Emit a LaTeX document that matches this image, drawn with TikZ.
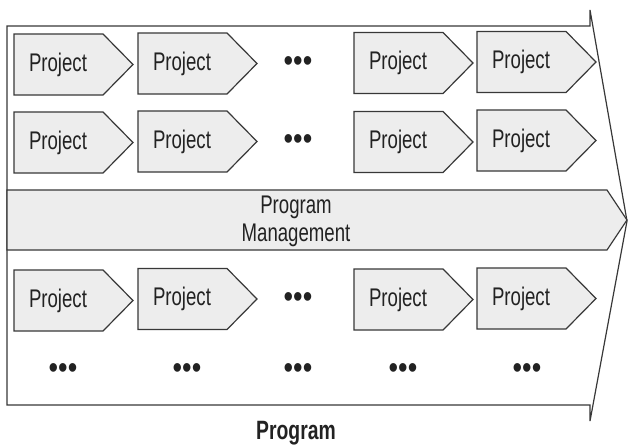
\documentclass[tikz,border=0pt]{standalone}
\usepackage{fontspec}
\setmainfont{Liberation Sans}[FakeStretch=0.73]
\newfontfamily\dotfont{Liberation Sans}[FakeStretch=0.85]
\definecolor{linec}{HTML}{383838}
\definecolor{boxfill}{HTML}{EDEDED}
\definecolor{textc}{HTML}{222222}
\begin{document}
\begin{tikzpicture}[x=1pt,y=-1pt,
  outline/.style={draw=linec, line width=1.2pt, line join=miter},
  chev/.style={outline, fill=boxfill},
  ptext/.style={font=\fontsize{25.5}{28}\selectfont, inner sep=0pt, text=textc},
  dotrow/.style={font=\dotfont\fontsize{32}{32}\selectfont, inner sep=0pt, text=textc},
  title/.style={font=\fontsize{26.5}{28}\selectfont\bfseries, inner sep=0pt, text=textc}]
\useasboundingbox (0,0) rectangle (628,445);

% program arrow (outer frame)
\draw[outline, fill=white] (7,26) -- (590,26) -- (590,10) -- (627,221)
  -- (590,421) -- (590,405) -- (7,405) -- cycle;

% program management band
\draw[chev] (7,190) -- (607,190) -- (627,220) -- (607,250) -- (7,250) -- cycle;
\node[ptext, align=center] (pm) at (296,221) {Program\\Management};

% project chevron: name, left x, centre y
\newcommand\projbox[3]{%
  \draw[chev] (#2,#3-30.5) -- ++(89,0) -- ++(30,30.5) -- ++(-30,30.5)
    -- ++(-89,0) -- cycle;
  \node[ptext] (#1) at (#2+44,#3) {Project};}

\projbox{p11}{14}{64.5}
\projbox{p12}{138}{63.5}
\projbox{p13}{354}{63}
\projbox{p14}{477}{62}

\projbox{p21}{14}{142.5}
\projbox{p22}{138}{141.5}
\projbox{p23}{354}{142}
\projbox{p24}{477}{140.5}

\projbox{p31}{14}{300.5}
\projbox{p32}{138}{299}
\projbox{p33}{354}{299.5}
\projbox{p34}{477}{298.5}

% continuation marks
\node[dotrow] (d1) at (298,64) {•••};
\node[dotrow] (d2) at (298,142) {•••};
\node[dotrow] (d3) at (298,300) {•••};
\node[dotrow] (d41) at (63,371) {•••};
\node[dotrow] (d42) at (187,371) {•••};
\node[dotrow] (d43) at (298,371) {•••};
\node[dotrow] (d44) at (403,371) {•••};
\node[dotrow] (d45) at (527,371) {•••};

% caption
\node[title] (cap) at (296,433) {Program};
\end{tikzpicture}
\end{document}
